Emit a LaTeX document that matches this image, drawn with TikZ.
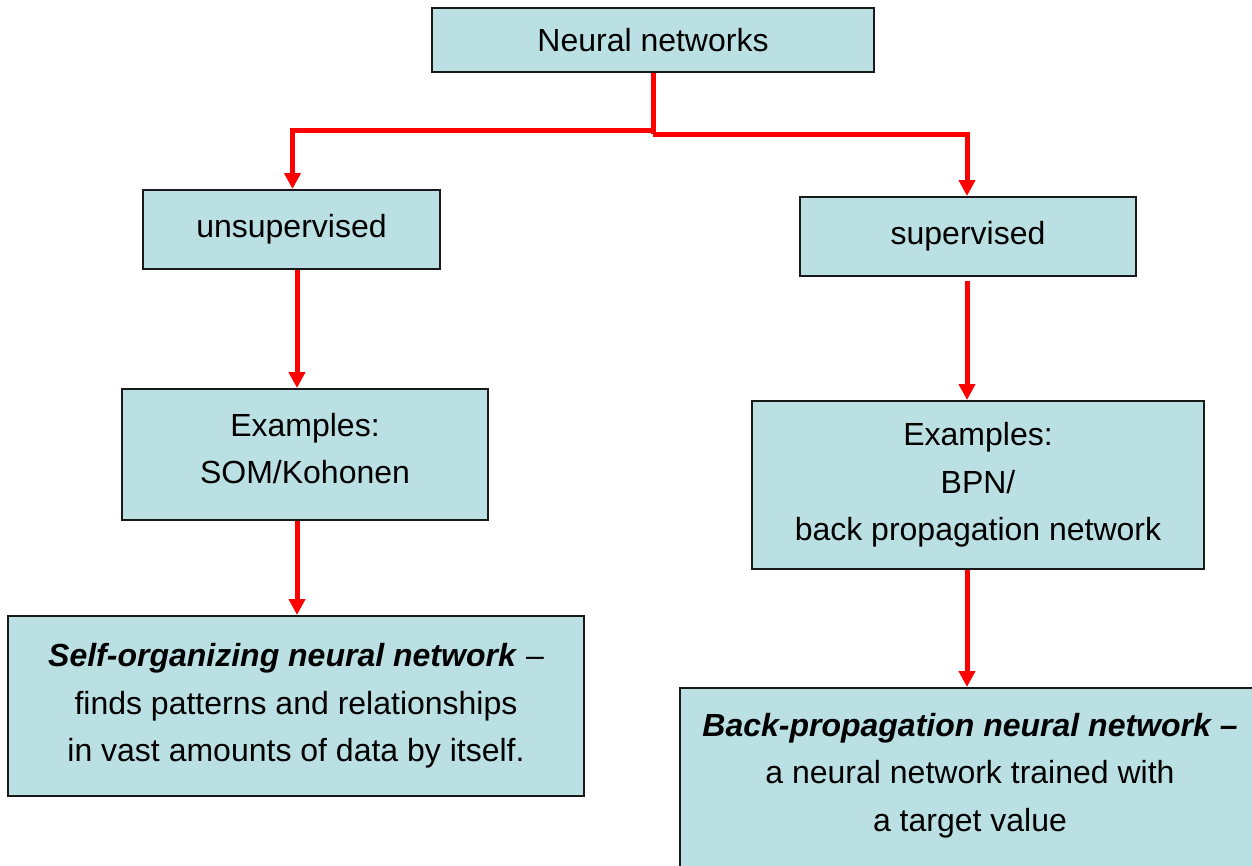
\documentclass[tikz,border=0pt]{standalone}
\usepackage{fontspec}
\setmainfont{Liberation Sans}
\usetikzlibrary{arrows.meta}
\definecolor{boxfill}{RGB}{186,224,227}
\definecolor{linkred}{RGB}{255,0,0}
\tikzset{
  box/.style={draw=black!90, line width=2pt, fill=boxfill, rectangle,
    inner sep=0pt, align=center,
    font=\fontsize{32}{47.5}\selectfont},
  link/.style={draw=linkred, line width=5pt},
  arr/.style={link, -{Triangle[width=16pt,length=16pt]}}
}
\begin{document}
\begin{tikzpicture}[x=1pt,y=-1pt]
\clip (0,0) rectangle (1252,865);
\fill[white] (0,0) rectangle (1252,865);

% boxes
\node[box, minimum width=442, minimum height=64] (top) at (653,40) {Neural networks};
\node[box, minimum width=297, minimum height=79] (unsup) at (291.5,229.5) {unsupervised};
\node[box, minimum width=336, minimum height=79] (sup) at (968,236.5) {supervised};
\node[box, minimum width=366, minimum height=131] (exL) at (305,454.5)
  {Examples:\\SOM/Kohonen\\[-35.5pt]\mbox{}};
\node[box, minimum width=452, minimum height=168] (exR) at (978,485)
  {Examples:\\BPN/\\back propagation network};
\node[box, minimum width=576, minimum height=180] (som) at (296,706)
  {\textbf{\textit{Self-organizing neural network}} --\\
   finds patterns and relationships\\
   in vast amounts of data by itself.};
\node[box, minimum width=580, minimum height=230] (bpn) at (970,803)
  {\textbf{\textit{Back-propagation neural network --}}\\
   a neural network trained with\\
   a target value\\ \strut};

% column guides for the vertical links
\coordinate (colL) at (297,0);
\coordinate (colR) at (967,0);
\coordinate (jl) at (653,130);
\coordinate (jr) at (653,134);

% split from the root
\draw[link] (top.south) -- (jr);
\draw[arr] (jl) -| ([xshift=1pt]unsup.north);
\draw[arr] (jr) -| (colR |- sup.north);

% left branch
\draw[arr] (colL |- unsup.south) -- (colL |- exL.north);
\draw[arr] (colL |- exL.south) -- (colL |- som.north);

% right branch
\draw[arr, shorten <=4pt] (colR |- sup.south) -- (colR |- exR.north);
\draw[arr] (colR |- exR.south) -- (colR |- bpn.north);
\end{tikzpicture}
\end{document}
